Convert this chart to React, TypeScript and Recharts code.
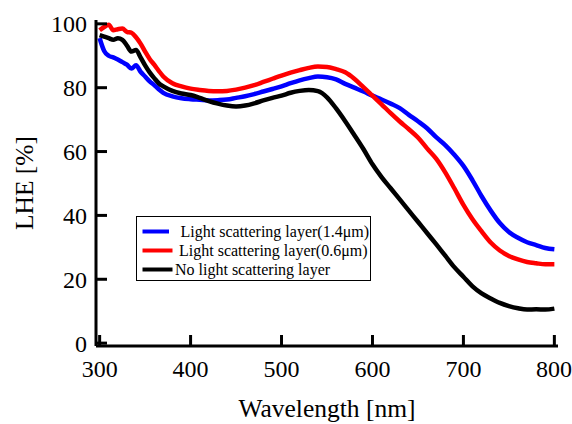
import React from "react";
import { LineChart, Line, XAxis, YAxis, Legend } from "recharts";

const wavelength = [
  300, 305, 310, 315, 320, 325, 330, 335, 340, 345, 350, 355, 360, 365, 370,
  380, 390, 400, 410, 420, 430, 440, 450, 460, 470, 480, 490, 500, 510, 520,
  530, 540, 550, 560, 570, 580, 590, 600, 610, 620, 630, 640, 650, 660, 670,
  680, 690, 700, 710, 720, 730, 740, 750, 760, 770, 780, 790, 800,
];

// Light scattering layer (1.4 um)
const lhe14 = [
  95.5, 91.5, 90.0, 89.5, 88.8, 88.0, 87.2, 86.0, 87.0, 85.0, 83.5, 82.0, 80.8, 79.5, 78.4,
  77.3, 76.7, 76.4, 76.2, 76.0, 76.1, 76.3, 76.8, 77.3, 78.0, 78.8, 79.6, 80.4, 81.4, 82.3,
  83.0, 83.5, 83.3, 82.6, 81.2, 80.0, 78.8, 77.5, 76.3, 75.0, 73.6, 71.5, 69.5, 67.3, 64.5,
  62.0, 59.0, 55.5, 51.0, 46.0, 41.5, 37.6, 34.8, 33.0, 31.6, 30.7, 29.8, 29.4,
];

// Light scattering layer (0.6 um)
const lhe06 = [
  98.0, 99.0, 99.7, 98.0, 98.3, 98.5, 97.5, 97.2, 95.8, 93.8, 91.3, 89.0, 87.2, 85.3, 83.5,
  81.4, 80.4, 79.7, 79.3, 79.0, 78.9, 79.0, 79.4, 80.0, 80.8, 81.8, 82.8, 83.8, 84.7, 85.5,
  86.2, 86.6, 86.5, 85.8, 84.8, 82.8, 80.2, 77.5, 74.8, 72.0, 69.4, 67.0, 64.4, 61.0, 57.8,
  53.5, 48.5, 43.3, 38.8, 35.0, 31.5, 29.0, 27.3, 26.2, 25.4, 25.0, 24.7, 24.7,
];

// no scattering layer
const lheNone = [
  96.5, 96.0, 95.5, 95.0, 95.5, 95.0, 93.2, 91.3, 91.8, 89.5, 87.0, 84.8, 83.0, 81.4, 80.4,
  79.0, 78.2, 77.7, 76.8, 75.8, 75.0, 74.4, 74.1, 74.4, 75.1, 76.0, 76.8, 77.5, 78.4, 79.0,
  79.3, 78.9, 77.0, 73.5, 69.5, 65.2, 60.8, 56.0, 52.0, 48.5, 45.0, 41.5, 38.0, 34.5, 31.0,
  27.4, 23.8, 20.8, 17.8, 15.6, 14.0, 12.6, 11.6, 10.9, 10.5, 10.6, 10.5, 10.8,
];

const xTicks = [300, 400, 500, 600, 700, 800];
const yTicks = [0, 20, 40, 60, 80, 100];

const series = [
  { key: "s14", name: "Light scattering layer(1.4μm)", color: "#0000ff", values: lhe14 },
  { key: "s06", name: "Light scattering layer(0.6μm)", color: "#ff0000", values: lhe06 },
  { key: "none", name: "No light scattering layer", color: "#000000", values: lheNone },
];

const data = wavelength.map((w, i) => {
  const row: Record<string, number> = { w };
  series.forEach((s) => (row[s.key] = s.values[i]));
  return row;
});

const FONT = "Liberation Serif";
const tickStyle = { fill: "#000", fontSize: 24, fontFamily: FONT };
const axisLine = { stroke: "#000", strokeWidth: 3 };

// legend line + text offsets
const legendRows = [
  { x2: 33, textX: 44.5, y: 15.5 },
  { x2: 36.5, textX: 43, y: 34.5 },
  { x2: 36.5, textX: 39, y: 53.5 },
];

function LegendBox() {
  return (
    <svg width={236} height={66} style={{ display: "block" }}>
      <rect x={0.5} y={0.5} width={234} height={64} fill="#fff" stroke="#000" strokeWidth={1} />
      {series.map((s, i) => (
        <g key={s.key}>
          <line x1={6.5} x2={legendRows[i].x2} y1={legendRows[i].y} y2={legendRows[i].y} stroke={s.color} strokeWidth={4} />
          <text x={legendRows[i].textX} y={legendRows[i].y + 5} fontSize={16} fontFamily={FONT} fill="#000">
            {s.name}
          </text>
        </g>
      ))}
    </svg>
  );
}

function XTitle(props: any) {
  const vb = props.viewBox;
  return (
    <text x={vb.x + vb.width / 2} y={vb.y + 71} textAnchor="middle" fontSize={25.5} fontFamily={FONT} fill="#000">
      Wavelength [nm]
    </text>
  );
}

function YTitle(props: any) {
  const vb = props.viewBox;
  const cx = vb.x + 25;
  const cy = vb.y + vb.height / 2;
  return (
    <text x={cx} y={cy + 8} transform={`rotate(-90 ${cx} ${cy})`} textAnchor="middle" fontSize={25.5} fontFamily={FONT} fill="#000">
      LHE [%]
    </text>
  );
}

export default function App() {
  return (
    <div style={{ position: "absolute", left: 0, top: 0, background: "#fff" }}>
      <LineChart width={572} height={424} data={data} margin={{ top: 20, right: 14, bottom: 0, left: 0 }}>
        <XAxis
          dataKey="w"
          type="number"
          domain={[296, 804]}
          allowDataOverflow
          ticks={xTicks}
          height={78}
          axisLine={axisLine}
          tickLine={{ stroke: "#000", strokeWidth: 3 }}
          tickSize={-11}
          tickMargin={25}
          tick={tickStyle}
          label={<XTitle />}
        />
        <XAxis xAxisId="top" orientation="top" dataKey="w" type="number" domain={[296, 804]} height={0} tick={false} tickLine={false} axisLine={axisLine} />
        <YAxis
          type="number"
          domain={[-0.9, 101.2]}
          allowDataOverflow
          ticks={yTicks}
          width={96}
          axisLine={axisLine}
          tickLine={{ stroke: "#000", strokeWidth: 3 }}
          tickSize={-11}
          tickMargin={20}
          tick={tickStyle}
          label={<YTitle />}
        />
        <YAxis yAxisId="right" orientation="right" type="number" domain={[-0.9, 101.2]} width={0} tick={false} tickLine={false} axisLine={axisLine} />
        {series.map((s) => (
          <Line
            key={s.key}
            dataKey={s.key}
            name={s.name}
            type="monotone"
            stroke={s.color}
            strokeWidth={4.5}
            dot={false}
            activeDot={false}
            isAnimationActive={false}
          />
        ))}
        <Legend
          layout="vertical"
          align="center"
          verticalAlign="middle"
          wrapperStyle={{ left: 136, top: 216, width: 236, height: 66 }}
          content={() => <LegendBox />}
        />
      </LineChart>
    </div>
  );
}
